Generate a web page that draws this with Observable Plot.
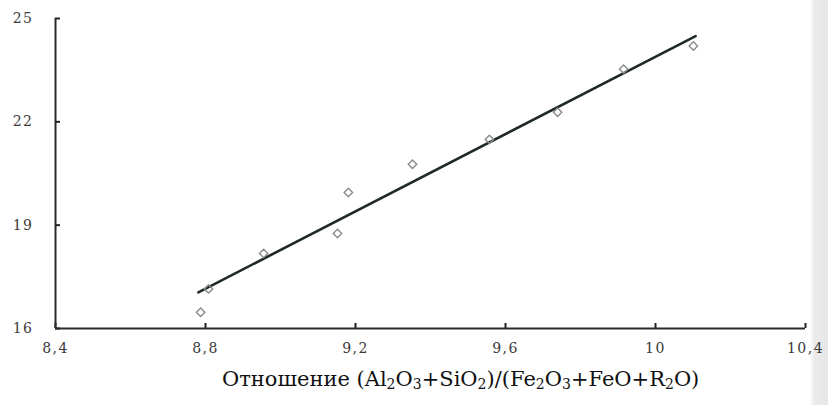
<!DOCTYPE html>
<html>
<head>
<meta charset="utf-8">
<script src="https://cdn.jsdelivr.net/npm/d3@7"></script>
<script src="https://cdn.jsdelivr.net/npm/@observablehq/plot@0.6"></script>
<style>
  html, body { margin: 0; padding: 0; background: linear-gradient(to right, #ffffff 0, #ffffff 810px, #ebebeb 814px, #e6e6e6 828px); width: 828px; height: 405px; overflow: hidden; }
  #title { font-family: "DejaVu Serif", serif; font-size: 21px; color: #111; position: absolute; top: 367px; left: 222px; white-space: nowrap; }
  #title sub { font-size: 14px; vertical-align: -3px; line-height: 0; }
  svg text { font-family: "DejaVu Serif", serif !important; font-size: 14px !important; letter-spacing: 1.5px; }
</style>
</head>
<body>
<div id="chart"></div>
<div id="title">Отношение (Al<sub>2</sub>O<sub>3</sub>+SiO<sub>2</sub>)/(Fe<sub>2</sub>O<sub>3</sub>+FeO+R<sub>2</sub>O)</div>
<script>
const ratio = [8.787, 8.808, 8.955, 9.152, 9.181, 9.352, 9.557, 9.739, 9.915, 10.101];
const strength = [16.47, 17.15, 18.18, 18.76, 19.95, 20.77, 21.49, 22.28, 23.53, 24.20];
const trendX = [8.781, 10.107];
const trendY = [17.05, 24.49];
const xTicks = [8.4, 8.8, 9.2, 9.6, 10, 10.4];
const xTickLabels = ["8,4", "8,8", "9,2", "9,6", "10", "10,4"];
const yTicks = [16, 19, 22, 25];
const yTickLabels = ["16", "19", "22", "25"];

const points = ratio.map((x, i) => ({x, y: strength[i]}));
const trend = trendX.map((x, i) => ({x, y: trendY[i]}));

const chart = Plot.plot({
  width: 828,
  height: 362,
  marginLeft: 55,
  marginRight: 23,
  marginTop: 18,
  marginBottom: 34,
  style: {background: "transparent", fontFamily: "DejaVu Serif", fontSize: "14px"},
  x: {domain: [8.4, 10.4]},
  y: {domain: [16, 25]},
  marks: [
    Plot.axisX(xTicks, {tickSize: 0, tickPadding: 15, fill: "#3a3a3a",
      tickFormat: (d) => xTickLabels[xTicks.indexOf(d)], label: null}),
    Plot.axisY(yTicks, {tickSize: 0, tickPadding: 22, fill: "#3a3a3a",
      tickFormat: (d) => yTickLabels[yTicks.indexOf(d)], label: null}),
    Plot.ruleX(xTicks, {y1: 16, y2: 16, insetTop: -5, stroke: "#222", strokeWidth: 2}),
    Plot.ruleY(yTicks, {x1: 8.4, x2: 8.4, insetRight: -5, stroke: "#222", strokeWidth: 2}),
    Plot.ruleY([16], {stroke: "#2a2a2a", strokeWidth: 2}),
    Plot.ruleX([8.4], {stroke: "#2a2a2a", strokeWidth: 2}),
    Plot.line(trend, {x: "x", y: "y", stroke: "#1f2a26", strokeWidth: 2.6}),
    Plot.dot(points, {x: "x", y: "y", symbol: "diamond2", r: 3.8, stroke: "#8a8a8a", strokeWidth: 1.4, fill: "none"})
  ]
});
document.getElementById("chart").appendChild(chart);
</script>
</body>
</html>
